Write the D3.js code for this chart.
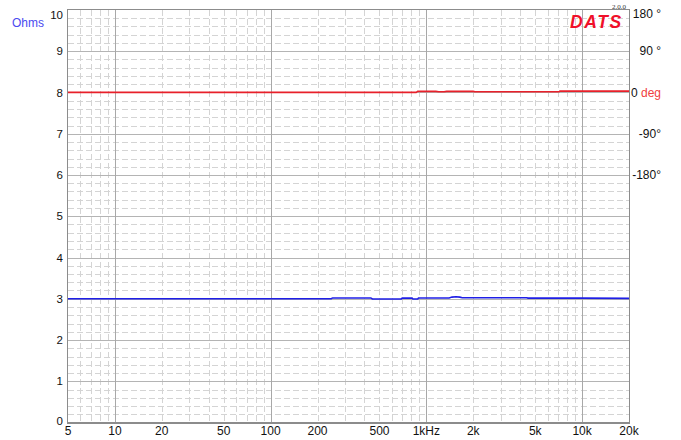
<!DOCTYPE html>
<html>
<head>
<meta charset="utf-8">
<script src="https://cdn.jsdelivr.net/npm/d3@7"></script>
<style>
html,body{margin:0;padding:0;background:#fff;}
svg{display:block;font-family:"Liberation Sans",Arial,Helvetica,sans-serif;}
</style>
</head>
<body>
<svg id="chart" width="681" height="440"></svg>
<script>
// Impedance magnitude (Ohms) vs frequency
const magFreq = [5, 10, 20, 50, 100, 200, 245, 250, 440, 450, 690, 700, 810, 820, 880, 890, 1400, 1460, 1550, 1640, 1700, 4400, 4500, 10000, 20000];
const magOhms = [3.00, 3.00, 3.00, 3.00, 3.00, 3.00, 3.00, 3.02, 3.02, 2.995, 2.995, 3.015, 3.015, 2.995, 2.995, 3.02, 3.02, 3.04, 3.05, 3.04, 3.025, 3.025, 3.015, 3.015, 3.01];
// Phase (degrees) vs frequency
const phFreq = [5, 50, 500, 860, 880, 1150, 1200, 1300, 1350, 2000, 2050, 7100, 7200, 20000];
const phDeg  = [0.3, 0.3, 0.3, 0.3, 2.5, 2.5, 1.5, 1.5, 2.5, 2.5, 1.5, 1.5, 3.0, 3.0];
// Axis ticks
const yTicks = [0, 1, 2, 3, 4, 5, 6, 7, 8, 9, 10];
const xTickVals = [5, 10, 20, 50, 100, 200, 500, 1000, 2000, 5000, 10000, 20000];
const xTickLabels = ["5", "10", "20", "50", "100", "200", "500", "1kHz", "2k", "5k", "10k", "20k"];
const phaseTicks = [180, 90, 0, -90, -180];
const phaseLabels = ["180 °", "90 °", "0 ", "-90°", "-180°"];

const svg = d3.select("#chart");
const L = 68, R = 629, T = 10, B = 422.5;
const x = d3.scaleLog().domain([5, 20000]).range([L, R]);
const y = d3.scaleLinear().domain([0, 10]).range([B, T]);
const yp = d3.scaleLinear().domain([-720, 180]).range([B, T]); // phase: 90 deg per ohm, 0 deg at 8 ohm
const px = v => Math.round(v) + 0.5;

const g = svg.append("g").attr("shape-rendering", "crispEdges");

// minor horizontal grid
const minorY = d3.range(0, 50).map(i => i * 0.2).filter(v => Math.abs(v - Math.round(v)) > 1e-6);
g.selectAll(".mh").data(minorY).enter().append("line")
  .attr("x1", L).attr("x2", R).attr("y1", d => px(y(d))).attr("y2", d => px(y(d)))
  .attr("stroke", "#d4d4d4").attr("stroke-width", 1).attr("stroke-dasharray", "6,3");

// minor vertical grid
const minorX = [];
[1, 10, 100, 1000, 10000].forEach(dec => { for (let m = 2; m <= 9; m++) { const f = m * dec; if (f > 5 && f < 20000) minorX.push(f); } });
g.selectAll(".mv").data(minorX).enter().append("line")
  .attr("y1", T).attr("y2", B).attr("x1", d => px(x(d))).attr("x2", d => px(x(d)))
  .attr("stroke", "#d4d4d4").attr("stroke-width", 1).attr("stroke-dasharray", "6,3");

// major horizontal grid
g.selectAll(".Mh").data(yTicks.slice(1, -1)).enter().append("line")
  .attr("x1", L).attr("x2", R).attr("y1", d => px(y(d))).attr("y2", d => px(y(d)))
  .attr("stroke", "#b4b4b4").attr("stroke-width", 1);

// major vertical grid (decades)
g.selectAll(".Mv").data([10, 100, 1000, 10000]).enter().append("line")
  .attr("y1", T).attr("y2", B).attr("x1", d => px(x(d))).attr("x2", d => px(x(d)))
  .attr("stroke", "#a8a8a8").attr("stroke-width", 1);

// frame
g.append("rect").attr("x", L - 0.5).attr("y", T - 0.5).attr("width", R - L + 1).attr("height", B - T + 1)
  .attr("fill", "none").attr("stroke", "#8c8c8c").attr("stroke-width", 1.5);

// lines
const magLine = d3.line().x((d, i) => x(magFreq[i])).y(d => y(d));
svg.append("path").attr("d", magLine(magOhms)).attr("fill", "none")
  .attr("stroke", "#1f1fe6").attr("stroke-width", 1.6);
const phLine = d3.line().x((d, i) => x(phFreq[i])).y(d => yp(d));
svg.append("path").attr("d", phLine(phDeg)).attr("fill", "none")
  .attr("stroke", "#e8202a").attr("stroke-width", 1.6);

// left axis labels
svg.selectAll(".yl").data(yTicks).enter().append("text")
  .attr("x", 63).attr("y", d => d === 10 ? 15.3 : (d === 0 ? 420.5 : y(d)))
  .attr("text-anchor", "end").attr("dominant-baseline", "central")
  .attr("font-size", 11.5).attr("fill", "#111").text(d => d);

// bottom axis labels
svg.selectAll(".xl").data(xTickVals).enter().append("text")
  .attr("x", d => x(d)).attr("y", 435)
  .attr("text-anchor", "middle").attr("font-size", 12).attr("fill", "#111")
  .text((d, i) => xTickLabels[i]);

// right (phase) axis labels
const pl = svg.selectAll(".pl").data(phaseTicks).enter().append("text")
  .attr("x", 661).attr("y", d => d === 180 ? 13.8 : yp(d))
  .attr("text-anchor", "end").attr("dominant-baseline", "central")
  .attr("font-size", 12).attr("fill", "#111");
pl.each(function(d, i) {
  const t = d3.select(this);
  t.append("tspan").text(phaseLabels[i]);
  if (d === 0) t.append("tspan").attr("fill", "#f04040").text("deg");
});

// Ohms label
svg.append("text").attr("x", 12).attr("y", 23).attr("dominant-baseline", "central")
  .attr("font-size", 12).attr("fill", "#4a4af0").text("Ohms");

// DATS logo
svg.append("text").attr("x", 570).attr("y", 27.5).attr("font-size", 17.5)
  .attr("font-weight", "bold").attr("font-style", "italic").attr("fill", "#f0102a")
  .attr("letter-spacing", 1.6).text("DATS");
svg.append("text").attr("x", 626).attr("y", 8.5).attr("text-anchor", "end")
  .attr("font-family", "'Liberation Serif',serif").attr("font-size", 7).attr("fill", "#333").text("2.0.0");
</script>
</body>
</html>
